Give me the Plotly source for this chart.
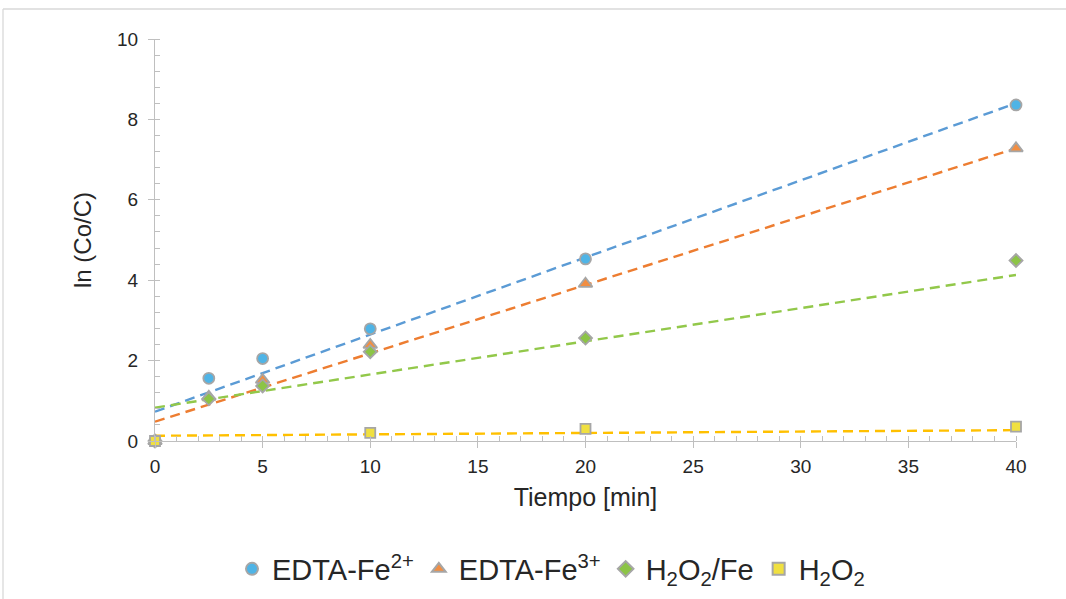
import numpy as np
import plotly.graph_objects as go

# ---- data ----
tiempo_fe2 = [0, 2.5, 5, 10, 20, 40]
lnc_fe2 = [0, 1.56, 2.05, 2.79, 4.53, 8.36]

tiempo_fe3 = [0, 2.5, 5, 10, 20, 40]
lnc_fe3 = [0, 1.10, 1.52, 2.39, 3.91, 7.28]

tiempo_h2o2fe = [0, 2.5, 5, 10, 20, 40]
lnc_h2o2fe = [0, 1.05, 1.37, 2.22, 2.56, 4.49]

tiempo_h2o2 = [0, 10, 20, 40]
lnc_h2o2 = [0, 0.20, 0.30, 0.36]

# linear trendline coefficients (intercept, slope)
trend_intercepts = [0.73, 0.48, 0.83, 0.13]
trend_slopes = [0.1918, 0.170, 0.0825, 0.0035]

series_names = ["EDTA-Fe<sup>2+</sup>", "EDTA-Fe<sup>3+</sup>",
                "H<sub>2</sub>O<sub>2</sub>/Fe", "H<sub>2</sub>O<sub>2</sub>"]

x_ticks = [0, 5, 10, 15, 20, 25, 30, 35, 40]
y_ticks = [0, 2, 4, 6, 8, 10]

# ---- styling ----
marker_fill = ["#4FB4E6", "#F28E42", "#8CC446", "#F0E040"]
trend_colors = ["#5B9BD5", "#ED7D31", "#92C84A", "#FFC000"]
symbols = ["circle", "triangle-up", "diamond", "square"]
sizes = [11, 12, 10, 10]
outline = "#A6A6A6"
FONT = "Arial, Liberation Sans, Helvetica, sans-serif"
TXT = "#262626"

xs = [tiempo_fe2, tiempo_fe3, tiempo_h2o2fe, tiempo_h2o2]
ys = [lnc_fe2, lnc_fe3, lnc_h2o2fe, lnc_h2o2]

fig = go.Figure()

# trendlines first (behind markers)
xline = np.array([x_ticks[0], x_ticks[-1]], dtype=float)
for i in range(4):
    fig.add_trace(go.Scatter(
        x=xline, y=trend_intercepts[i] + trend_slopes[i] * xline,
        mode="lines", line=dict(color=trend_colors[i], width=2.4, dash="10px,6px"),
        showlegend=False, hoverinfo="skip", cliponaxis=False))

for i in range(4):
    fig.add_trace(go.Scatter(
        x=xs[i], y=ys[i], mode="markers", name=series_names[i],
        marker=dict(symbol=symbols[i], size=sizes[i], color=marker_fill[i],
                    line=dict(color=outline, width=1.8)),
        cliponaxis=False))

W, H = 1066, 599
L, R, T, B = 155, 1016, 39, 441
pw, ph = R - L, B - T

def px_to_paper_x(px):
    return (px - L) / pw

def px_to_paper_y(py):
    return (B - py) / ph

axis_common = dict(
    showgrid=False, zeroline=False, showline=True, linecolor="#BFBFBF", linewidth=1.3,
    ticks="outside", ticklen=6, tickcolor="#BFBFBF", tickwidth=1.3,
    tickfont=dict(family=FONT, size=19, color=TXT),
)

fig.update_layout(
    width=W, height=H,
    margin=dict(l=L, r=W - R, t=T, b=H - B, autoexpand=False),
    paper_bgcolor="white", plot_bgcolor="white",
    font=dict(family=FONT, color=TXT),
    xaxis=dict(range=[0, 40], tickvals=x_ticks, ticktext=[str(v) for v in x_ticks],
               ticklabelstandoff=2,
               title=dict(text="Tiempo [min]", font=dict(family=FONT, size=25, color=TXT), standoff=12),
               minor=dict(dtick=1, ticks="inside", ticklen=5, tickcolor="#BFBFBF", tickwidth=1.2, showgrid=False),
               **axis_common),
    yaxis=dict(range=[0, 10], tickvals=y_ticks, ticktext=[str(v) for v in y_ticks],
               ticklabelstandoff=6,
               title=dict(text="ln (Co/C)", font=dict(family=FONT, size=24, color=TXT), standoff=18),
               minor=dict(dtick=0.4, ticks="inside", ticklen=5, tickcolor="#BFBFBF", tickwidth=1.2, showgrid=False),
               **axis_common),
    legend=dict(orientation="h", xref="container", yref="container",
                x=551 / W, xanchor="center",
                y=1 - 569 / H, yanchor="middle",
                font=dict(family=FONT, size=29, color=TXT),
                itemsizing="constant", bgcolor="rgba(0,0,0,0)"),
    showlegend=True,
)

# outer chart-area frame (top and left edges visible in the reference)
fig.add_shape(type="line", xref="paper", yref="paper",
              x0=px_to_paper_x(3), x1=px_to_paper_x(W + 5), y0=px_to_paper_y(9), y1=px_to_paper_y(9),
              line=dict(color="#D9D9D9", width=1.3))
fig.add_shape(type="line", xref="paper", yref="paper",
              x0=px_to_paper_x(3), x1=px_to_paper_x(3), y0=px_to_paper_y(9), y1=px_to_paper_y(H + 5),
              line=dict(color="#D9D9D9", width=1.3))

fig.write_html("out.html", config={"displayModeBar": False},
               post_script="document.body.style.margin='0px';document.body.style.overflow='hidden';")
